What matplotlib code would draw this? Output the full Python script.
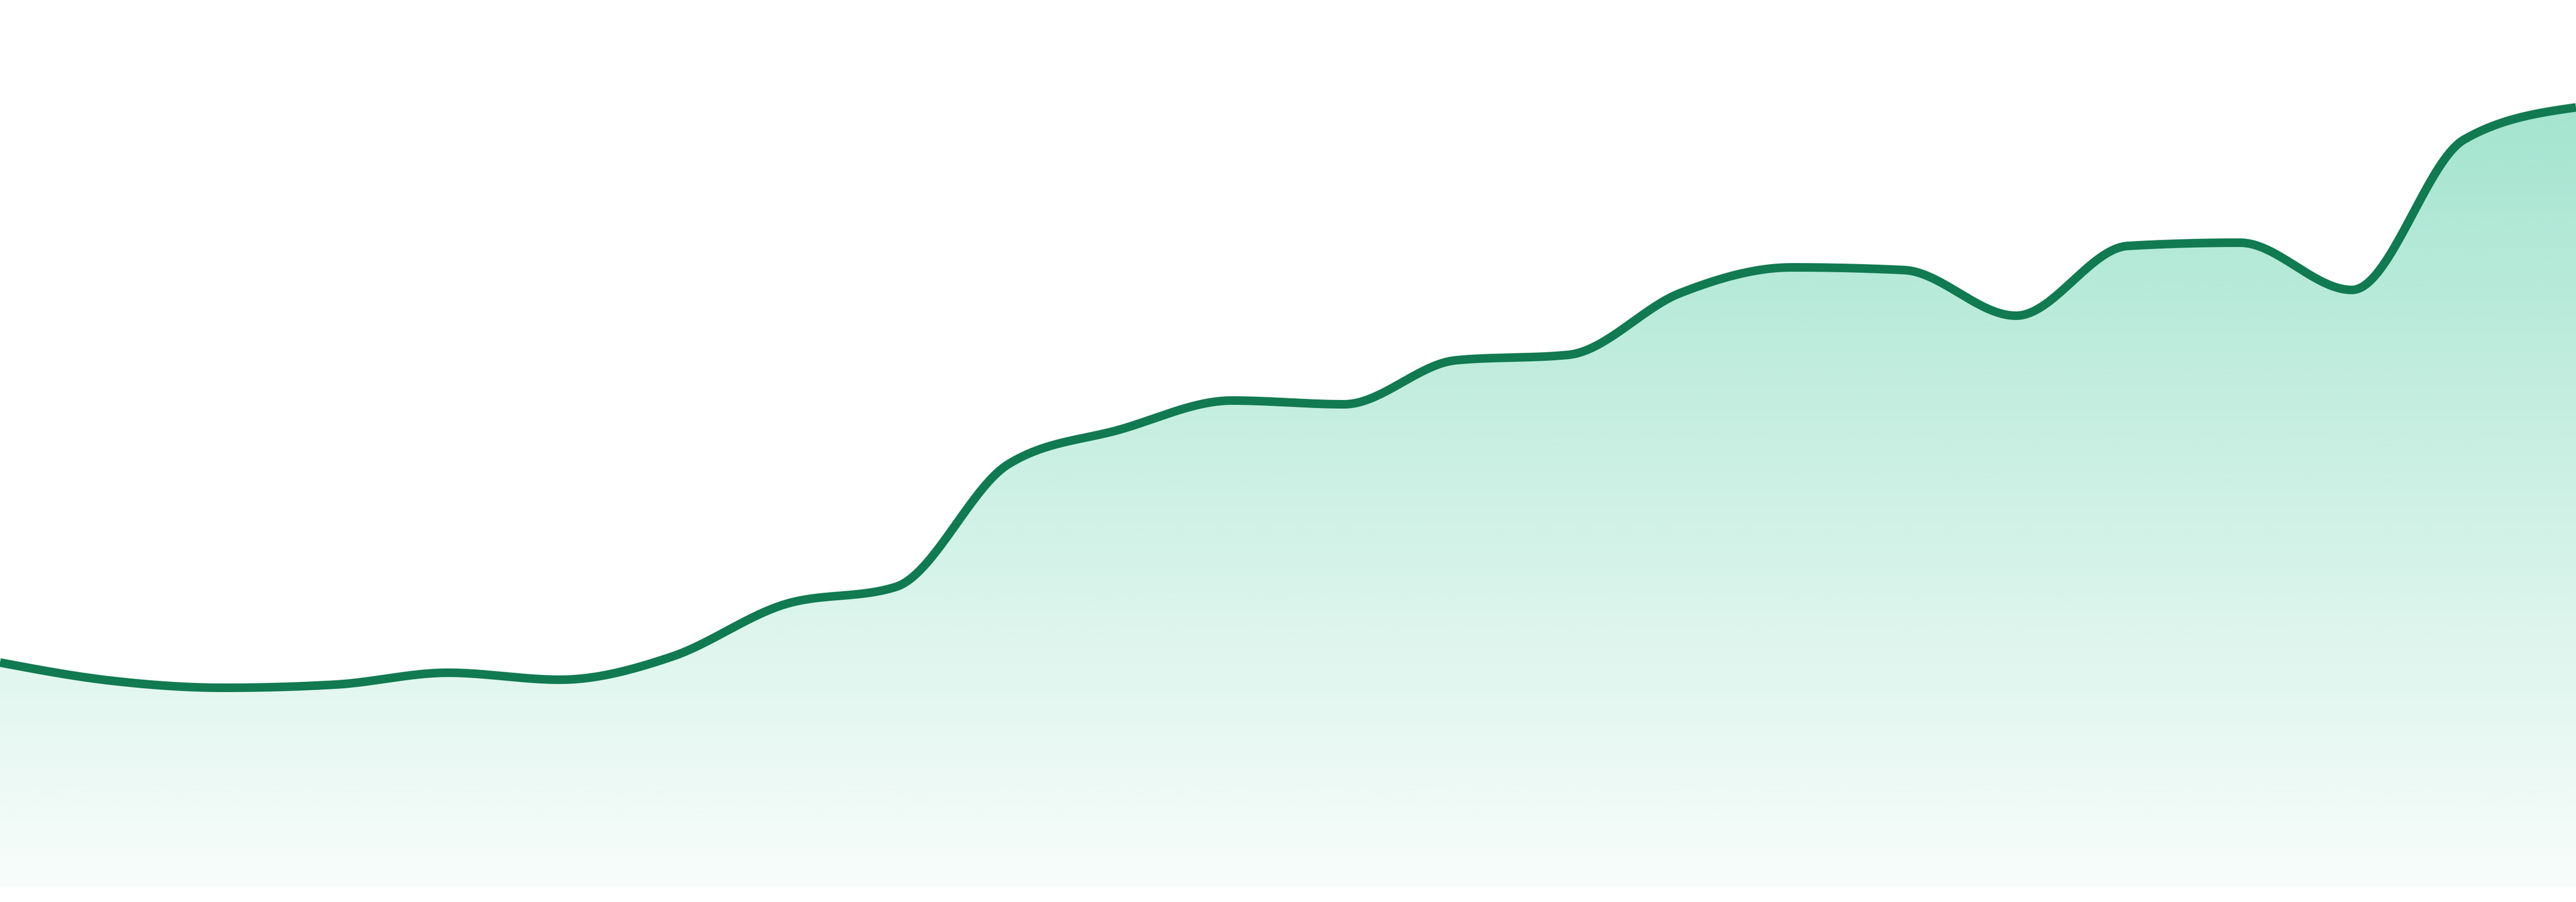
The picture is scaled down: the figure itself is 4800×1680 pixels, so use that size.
import numpy as np
import matplotlib
matplotlib.use("Agg")
import matplotlib.pyplot as plt
from matplotlib.patches import Polygon

# values, one per step (24 points)
steps = list(range(24))
values = [41.7, 38.3, 37.0, 37.6, 39.8, 38.5, 42.8, 52.5, 55.8, 78.6,
          85.1, 90.5, 89.8, 98.0, 99.0, 110.5, 115.3, 114.8, 106.3, 119.3,
          119.9, 111.1, 139.1, 145.1]

line_color = "#117a51"
fill_rgb = (16 / 255, 185 / 255, 129 / 255)


def monotone_curve(x, y, n=40):
    # same smoothing as d3.curveMonotoneX
    x = np.asarray(x, float)
    y = np.asarray(y, float)
    h = np.diff(x)
    s = np.diff(y) / h
    t = np.zeros(len(x))
    for i in range(1, len(x) - 1):
        p = (s[i - 1] * h[i] + s[i] * h[i - 1]) / (h[i - 1] + h[i])
        t[i] = (np.sign(s[i - 1]) + np.sign(s[i])) * min(abs(s[i - 1]), abs(s[i]), 0.5 * abs(p))
    t[0] = (3 * s[0] - t[1]) / 2
    t[-1] = (3 * s[-1] - t[-2]) / 2
    xs, ys = [], []
    for i in range(len(x) - 1):
        u = np.linspace(0, 1, n, endpoint=(i == len(x) - 2))
        h00 = 2 * u**3 - 3 * u**2 + 1
        h10 = u**3 - 2 * u**2 + u
        h01 = -2 * u**3 + 3 * u**2
        h11 = u**3 - u**2
        xs.append(x[i] + u * h[i])
        ys.append(h00 * y[i] + h10 * h[i] * t[i] + h01 * y[i + 1] + h11 * h[i] * t[i + 1])
    return np.concatenate(xs), np.concatenate(ys)


cx, cy = monotone_curve(steps, values)

fig = plt.figure(figsize=(16, 5.6), dpi=300)
ax = fig.add_axes([0, 0, 1, 1])
ymin, ymax = -2.9, 165.1
ax.axis("off")

# vertical gradient under the line
top = max(values)
levels = np.linspace(ymax, 0, 600)
alpha = np.clip(0.03 + 0.35 * levels / top, 0, 1)
grad = np.zeros((len(levels), 1, 4))
grad[:, 0, :3] = fill_rgb
grad[:, 0, 3] = alpha
im = ax.imshow(grad, extent=[steps[0], steps[-1], 0, ymax], aspect="auto",
               origin="upper", interpolation="bilinear", zorder=1)
verts = np.vstack([np.column_stack([cx, cy]), [[steps[-1], 0], [steps[0], 0]]])
clip = Polygon(verts, closed=True, facecolor="none", edgecolor="none")
ax.add_patch(clip)
im.set_clip_path(clip)

ax.plot(cx, cy, color=line_color, lw=3.84, solid_capstyle="butt", zorder=2)

# imshow resets the limits, so set them last
ax.set_xlim(steps[0], steps[-1])
ax.set_ylim(ymin, ymax)

fig.savefig("out.png", dpi=300)
